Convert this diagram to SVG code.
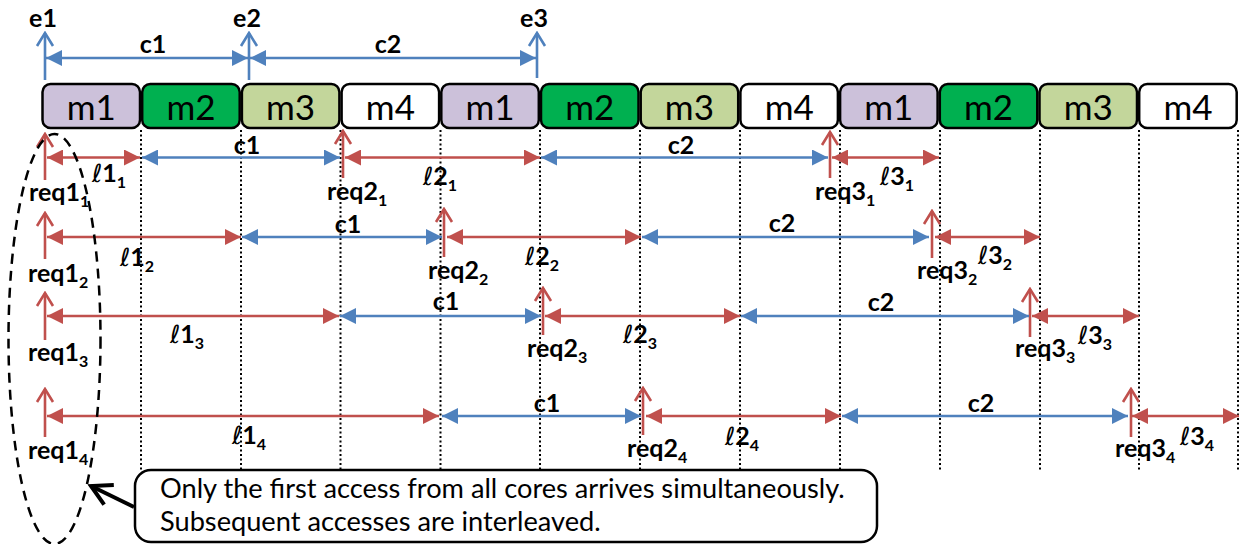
<svg xmlns="http://www.w3.org/2000/svg" width="1245" height="544" viewBox="0 0 1245 544">
  <style>
    .slot { stroke: #000; stroke-width: 2.5; }
    .m1 { fill: #CCC1DA; }
    .m2 { fill: #00B050; }
    .m3 { fill: #C3D69B; }
    .m4 { fill: #FFFFFF; }
    .mt { font-family: Lato, "Liberation Sans", sans-serif; font-size: 35px; text-anchor: middle; fill: #000; }
    .lb { font-family: Lato, "Liberation Sans", sans-serif; font-weight: bold; font-size: 25px; fill: #000; }
    .mid { text-anchor: middle; }
    .sb { font-size: 16px; }
    .el { font-family: "DejaVu Sans", sans-serif; font-weight: normal; font-size: 25px; }
    .grid { stroke: #000; stroke-width: 2; stroke-dasharray: 2 2.5; fill: none; }
    .red { stroke: #C0504D; stroke-width: 2.6; fill: none; marker-start: url(#hR); marker-end: url(#hR); }
    .blue { stroke: #4F81BD; stroke-width: 2.6; fill: none; marker-start: url(#hB); marker-end: url(#hB); }
    .reqA { stroke: #C0504D; stroke-width: 2.6; fill: none; marker-end: url(#upR); }
    .evA { stroke: #4F81BD; stroke-width: 2.6; fill: none; marker-end: url(#upB); }
    .note { font-family: Lato, "Liberation Sans", sans-serif; font-size: 27.2px; fill: #000; }
  </style>
  <defs>
    <marker id="hR" viewBox="0 0 16 16" refX="16" refY="8" markerWidth="16" markerHeight="16" markerUnits="userSpaceOnUse" orient="auto-start-reverse">
      <path d="M0,0 L16,8 L0,16 Z" fill="#C0504D"/>
    </marker>
    <marker id="hB" viewBox="0 0 16 16" refX="16" refY="8" markerWidth="16" markerHeight="16" markerUnits="userSpaceOnUse" orient="auto-start-reverse">
      <path d="M0,0 L16,8 L0,16 Z" fill="#4F81BD"/>
    </marker>
    <marker id="upR" viewBox="-15 -10 17 20" refX="0" refY="0" markerWidth="17" markerHeight="20" markerUnits="userSpaceOnUse" orient="auto">
      <path d="M-13,-8 L0,0 L-13,8" fill="none" stroke="#C0504D" stroke-width="2.6"/>
    </marker>
    <marker id="upB" viewBox="-15 -10 17 20" refX="0" refY="0" markerWidth="17" markerHeight="20" markerUnits="userSpaceOnUse" orient="auto">
      <path d="M-13,-8 L0,0 L-13,8" fill="none" stroke="#4F81BD" stroke-width="2.6"/>
    </marker>
    <marker id="vK" viewBox="-24 -14 27 28" refX="0" refY="0" markerWidth="27" markerHeight="28" markerUnits="userSpaceOnUse" orient="auto">
      <path d="M-20,-11 L0,0 L-20,11" fill="none" stroke="#000" stroke-width="4"/>
    </marker>
  </defs>

  <!-- slot boundaries -->
  <g id="grid">
    <path class="grid" d="M141,130V470 M241,130V470 M340.5,130V470 M440.5,130V470 M540,130V470 M640,130V470 M740,130V470 M840,130V476 M940,130V470 M1040,130V470 M1139,130V470 M1238,130V470"/>
  </g>

  <!-- memory slots -->
  <g id="slot1"><rect class="slot m1" x="42.5" y="84" width="97.5" height="44" rx="8"/><text class="mt" x="91.2" y="120">m1</text></g>
  <g id="slot2"><rect class="slot m2" x="142.2" y="84" width="97.5" height="44" rx="8"/><text class="mt" x="191" y="120">m2</text></g>
  <g id="slot3"><rect class="slot m3" x="241.9" y="84" width="97.5" height="44" rx="8"/><text class="mt" x="290.6" y="120">m3</text></g>
  <g id="slot4"><rect class="slot m4" x="341.6" y="84" width="97.5" height="44" rx="8"/><text class="mt" x="390.4" y="120">m4</text></g>
  <g id="slot5"><rect class="slot m1" x="441.3" y="84" width="97.5" height="44" rx="8"/><text class="mt" x="490" y="120">m1</text></g>
  <g id="slot6"><rect class="slot m2" x="541" y="84" width="97.5" height="44" rx="8"/><text class="mt" x="589.8" y="120">m2</text></g>
  <g id="slot7"><rect class="slot m3" x="640.7" y="84" width="97.5" height="44" rx="8"/><text class="mt" x="689.4" y="120">m3</text></g>
  <g id="slot8"><rect class="slot m4" x="740.4" y="84" width="97.5" height="44" rx="8"/><text class="mt" x="789.2" y="120">m4</text></g>
  <g id="slot9"><rect class="slot m1" x="840.1" y="84" width="97.5" height="44" rx="8"/><text class="mt" x="888.8" y="120">m1</text></g>
  <g id="slot10"><rect class="slot m2" x="939.8" y="84" width="97.5" height="44" rx="8"/><text class="mt" x="988.6" y="120">m2</text></g>
  <g id="slot11"><rect class="slot m3" x="1039.5" y="84" width="97.5" height="44" rx="8"/><text class="mt" x="1088.2" y="120">m3</text></g>
  <g id="slot12"><rect class="slot m4" x="1139.2" y="84" width="97.5" height="44" rx="8"/><text class="mt" x="1188" y="120">m4</text></g>

  <!-- connectors: events, requests and latency / interval spans -->
  <g id="connectors">
    <path class="evA" d="M45,80V33"/>
    <path class="evA" d="M249,80V33"/>
    <path class="evA" d="M537,78V33"/>
    <path class="blue" d="M46,58H248"/>
    <path class="blue" d="M250,58H536"/>

    <path class="reqA" d="M45,180V134"/>
    <path class="reqA" d="M343,178V131"/>
    <path class="reqA" d="M830,178V132"/>
    <path class="red" d="M47,157.5H140"/>
    <path class="blue" d="M142,157.5H340"/>
    <path class="red" d="M345,157.5H540"/>
    <path class="blue" d="M541,157.5H828"/>
    <path class="red" d="M832,157.5H939"/>

    <path class="reqA" d="M45,259V213"/>
    <path class="reqA" d="M444,257V209"/>
    <path class="reqA" d="M932,258V211"/>
    <path class="red" d="M47,237H241"/>
    <path class="blue" d="M242,237H442"/>
    <path class="red" d="M447,237H641"/>
    <path class="blue" d="M642,237H929"/>
    <path class="red" d="M935,237H1040"/>

    <path class="reqA" d="M45,340V293"/>
    <path class="reqA" d="M543,335V288"/>
    <path class="reqA" d="M1030,337V289"/>
    <path class="red" d="M47,316H339"/>
    <path class="blue" d="M340,316H541"/>
    <path class="red" d="M545,316H740"/>
    <path class="blue" d="M741,316H1029"/>
    <path class="red" d="M1032,316H1139"/>

    <path class="reqA" d="M45,437V389"/>
    <path class="reqA" d="M643,435V388"/>
    <path class="reqA" d="M1131,437V389"/>
    <path class="red" d="M47,416H439"/>
    <path class="blue" d="M442,416H641"/>
    <path class="red" d="M646,416H841"/>
    <path class="blue" d="M842,416H1128"/>
    <path class="red" d="M1132,416H1239"/>

    <path d="M134,507L91,486" fill="none" stroke="#000" stroke-width="4" marker-end="url(#vK)"/>
  </g>

  <!-- event labels -->
  <g id="events">
    <text class="lb mid" x="43" y="27">e1</text>
    <text class="lb mid" x="247" y="27">e2</text>
    <text class="lb mid" x="534" y="27">e3</text>
    <text class="lb mid" x="153" y="53">c1</text>
    <text class="lb mid" x="388" y="53">c2</text>
  </g>

  <!-- core 1 -->
  <g id="core1">
    <text class="lb" x="29" y="201">req1<tspan class="sb" dy="6">1</tspan></text>
    <text class="lb" x="92" y="182"><tspan class="el">ℓ</tspan>1<tspan class="sb" dy="6">1</tspan></text>
    <text class="lb mid" x="247" y="154">c1</text>
    <text class="lb" x="327" y="200">req2<tspan class="sb" dy="6">1</tspan></text>
    <text class="lb" x="423" y="185"><tspan class="el">ℓ</tspan>2<tspan class="sb" dy="6">1</tspan></text>
    <text class="lb mid" x="681" y="154">c2</text>
    <text class="lb" x="815" y="200">req3<tspan class="sb" dy="6">1</tspan></text>
    <text class="lb" x="880" y="185"><tspan class="el">ℓ</tspan>3<tspan class="sb" dy="6">1</tspan></text>
  </g>

  <!-- core 2 -->
  <g id="core2">
    <text class="lb" x="28" y="282">req1<tspan class="sb" dy="6">2</tspan></text>
    <text class="lb" x="120" y="266"><tspan class="el">ℓ</tspan>1<tspan class="sb" dy="6">2</tspan></text>
    <text class="lb mid" x="348" y="233">c1</text>
    <text class="lb" x="428" y="279">req2<tspan class="sb" dy="6">2</tspan></text>
    <text class="lb" x="525" y="265"><tspan class="el">ℓ</tspan>2<tspan class="sb" dy="6">2</tspan></text>
    <text class="lb mid" x="782" y="232">c2</text>
    <text class="lb" x="917" y="279">req3<tspan class="sb" dy="6">2</tspan></text>
    <text class="lb" x="978" y="264"><tspan class="el">ℓ</tspan>3<tspan class="sb" dy="6">2</tspan></text>
  </g>

  <!-- core 3 -->
  <g id="core3">
    <text class="lb" x="28" y="361">req1<tspan class="sb" dy="6">3</tspan></text>
    <text class="lb" x="170" y="343"><tspan class="el">ℓ</tspan>1<tspan class="sb" dy="6">3</tspan></text>
    <text class="lb mid" x="446" y="310">c1</text>
    <text class="lb" x="527" y="357">req2<tspan class="sb" dy="6">3</tspan></text>
    <text class="lb" x="623" y="343"><tspan class="el">ℓ</tspan>2<tspan class="sb" dy="6">3</tspan></text>
    <text class="lb mid" x="881" y="311">c2</text>
    <text class="lb" x="1015" y="357">req3<tspan class="sb" dy="6">3</tspan></text>
    <text class="lb" x="1078" y="344"><tspan class="el">ℓ</tspan>3<tspan class="sb" dy="6">3</tspan></text>
  </g>

  <!-- core 4 -->
  <g id="core4">
    <text class="lb" x="28" y="459">req1<tspan class="sb" dy="6">4</tspan></text>
    <text class="lb" x="232" y="444"><tspan class="el">ℓ</tspan>1<tspan class="sb" dy="6">4</tspan></text>
    <text class="lb mid" x="547" y="412">c1</text>
    <text class="lb" x="627" y="457">req2<tspan class="sb" dy="6">4</tspan></text>
    <text class="lb" x="725" y="445"><tspan class="el">ℓ</tspan>2<tspan class="sb" dy="6">4</tspan></text>
    <text class="lb mid" x="981" y="412">c2</text>
    <text class="lb" x="1115" y="457">req3<tspan class="sb" dy="6">4</tspan></text>
    <text class="lb" x="1180" y="445"><tspan class="el">ℓ</tspan>3<tspan class="sb" dy="6">4</tspan></text>
  </g>

  <!-- simultaneous first accesses -->
  <g id="first-access">
    <ellipse cx="54.5" cy="339" rx="46" ry="205" fill="none" stroke="#000" stroke-width="2.5" stroke-dasharray="10 7"/>
  </g>

  <!-- callout -->
  <g id="callout">
    <rect x="135" y="470" width="742" height="72" rx="16" fill="#FFFFFF" stroke="#000" stroke-width="2.5"/>
    <text class="note" x="160" y="498">Only the first access from all cores arrives simultaneously.</text>
    <text class="note" x="160" y="531">Subsequent accesses are interleaved.</text>
  </g>
</svg>
